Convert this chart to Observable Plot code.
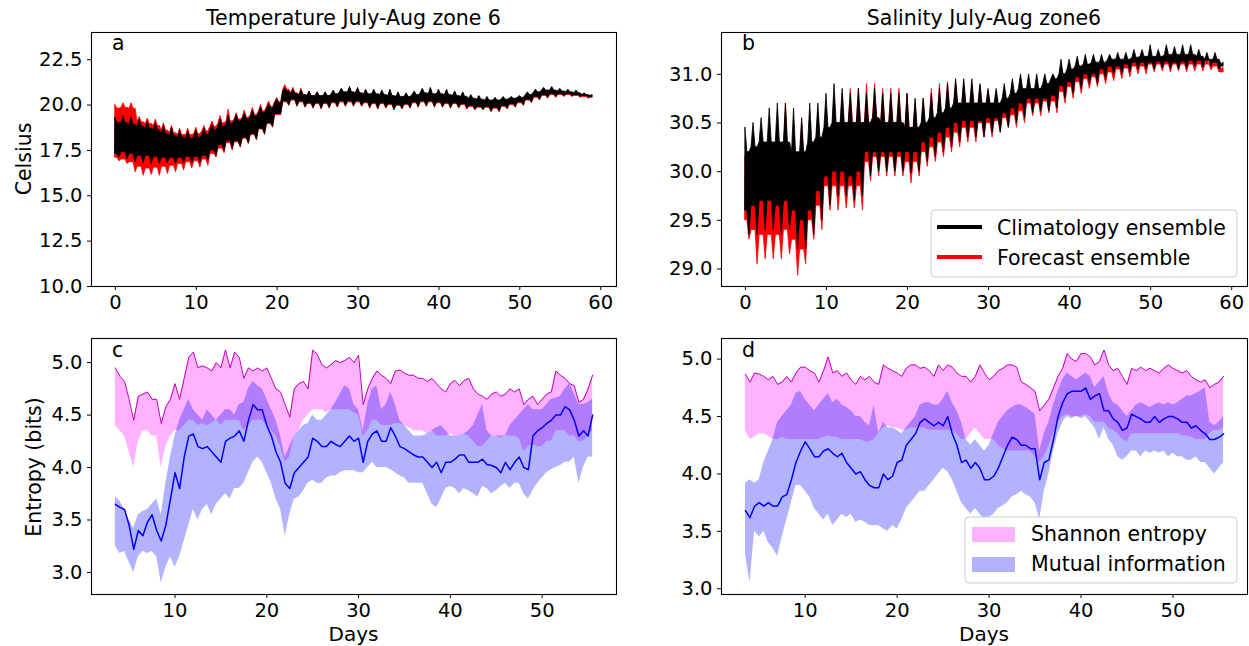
<!DOCTYPE html>
<html><head><meta charset="utf-8">
<script src="https://cdn.jsdelivr.net/npm/d3@7"></script>
<script src="https://cdn.jsdelivr.net/npm/@observablehq/plot@0.6"></script>
<style>
html,body{margin:0;padding:0;background:#fff;}
#chart{position:relative;width:1249px;height:646px;overflow:hidden;font-family:"DejaVu Sans";background:#fff;}
.panel{position:absolute;}
#overlay{position:absolute;left:0;top:0;pointer-events:none;}
</style></head><body>
<div id="chart">
<div class="panel" id="pa" style="left:0px;top:0px"></div>
<div class="panel" id="pb" style="left:630px;top:0px"></div>
<div class="panel" id="pc" style="left:0px;top:320px"></div>
<div class="panel" id="pd" style="left:630px;top:320px"></div>
<svg id="overlay" width="1249" height="646" font-family="DejaVu Sans" fill="black">
  <text x="353.5" y="25" font-size="20.5" text-anchor="middle">Temperature July-Aug zone 6</text>
  <text x="984" y="25" font-size="20.5" text-anchor="middle">Salinity July-Aug zone6</text>
  <text transform="translate(30.5,159) rotate(-90)" font-size="20.5" text-anchor="middle">Celsius</text>
  <text transform="translate(41,467) rotate(-90)" font-size="20.5" text-anchor="middle">Entropy (bits)</text>
  <text x="353.5" y="641" font-size="20" text-anchor="middle">Days</text>
  <text x="984" y="641" font-size="20" text-anchor="middle">Days</text>
  <text x="112" y="50" font-size="20.5">a</text>
  <text x="742" y="50" font-size="20.5">b</text>
  <text x="112" y="357" font-size="20.5">c</text>
  <text x="742" y="357" font-size="20.5">d</text>
  <rect x="931" y="210" width="306" height="67" rx="4" fill="white" fill-opacity="0.8" stroke="#cccccc"/>
  <line x1="937" x2="982" y1="227" y2="227" stroke="black" stroke-width="4"/>
  <line x1="937" x2="982" y1="257" y2="257" stroke="red" stroke-width="4"/>
  <text x="997" y="234.5" font-size="20.5">Climatology ensemble</text>
  <text x="997" y="264.5" font-size="20.5">Forecast ensemble</text>
  <rect x="965" y="517" width="272" height="66" rx="4" fill="white" fill-opacity="0.8" stroke="#cccccc"/>
  <rect x="972" y="527" width="43" height="15" fill="#ff00ff" fill-opacity="0.3"/>
  <rect x="972" y="557" width="43" height="15" fill="#0000ff" fill-opacity="0.3"/>
  <text x="1031" y="541" font-size="20.5">Shannon entropy</text>
  <text x="1031" y="571" font-size="20.5">Mutual information</text>
</svg>
</div>
<script>
// ---- sampling grids ----
const firstDayAB = 0, lastDayAB = 59;           // daily values, days 0..59
const stepCD = 0.5, firstDayCD = 3.5, lastDayCD = 55.5;

// ---- Panel a: temperature (Celsius), ensemble envelopes ----
// TopTip: daily high spikes; TopBase: solid upper edge; BotBase: solid lower edge;
// BotTip: low spikes half a day later (days 0.5..58.5)
const tempClimTopTip = [
19.3,19.4,19.35,19.2,19.1,19.0,18.85,18.75,18.6,18.55,
18.6,18.7,18.9,19.2,19.4,19.45,19.55,19.7,19.85,20.05,
20.3,20.9,20.85,20.8,20.75,20.7,20.7,20.8,20.9,21.0,
20.95,20.85,20.85,20.8,20.85,20.7,20.65,20.75,20.9,20.95,
20.85,20.85,20.75,20.7,20.55,20.5,20.45,20.4,20.45,20.45,
20.5,20.7,20.85,20.95,21.0,20.9,20.85,20.8,20.65,20.55];
const tempClimTopBase = [
19.0,19.0,18.9,18.8,18.7,18.6,18.4,18.3,18.2,18.15,
18.2,18.35,18.6,18.8,18.95,19.1,19.2,19.35,19.55,19.8,
20.1,20.75,20.6,20.55,20.5,20.5,20.5,20.6,20.7,20.7,
20.65,20.6,20.6,20.55,20.5,20.45,20.45,20.55,20.65,20.6,
20.6,20.55,20.5,20.45,20.35,20.3,20.25,20.25,20.3,20.35,
20.4,20.55,20.7,20.8,20.8,20.75,20.7,20.65,20.55,20.5];
const tempClimBotBase = [
17.3,17.4,17.3,17.2,17.2,17.15,17.1,17.1,17.1,17.15,
17.15,17.2,17.5,17.8,18.0,18.0,18.2,18.4,18.7,19.0,
19.5,20.2,20.3,20.2,20.1,20.1,20.1,20.15,20.2,20.2,
20.2,20.15,20.1,20.1,20.05,20.0,20.05,20.15,20.2,20.2,
20.15,20.1,20.1,20.05,19.95,19.9,19.9,19.85,19.95,20.05,
20.15,20.3,20.45,20.55,20.6,20.6,20.6,20.55,20.5,20.45];
const tempClimBotTip = [
17.1,17.0,16.85,16.8,16.75,16.75,16.8,16.75,16.8,16.8,
16.8,16.95,17.2,17.45,17.6,17.7,17.9,18.1,18.4,18.8,
19.5,20.0,19.95,19.9,19.85,19.8,19.85,19.9,19.95,19.95,
19.95,19.85,19.8,19.85,19.75,19.8,19.85,19.9,19.95,19.9,
19.9,19.85,19.85,19.8,19.75,19.75,19.65,19.65,19.8,19.9,
20.0,20.15,20.3,20.4,20.45,20.5,20.5,20.45,20.4];
const tempFcTopTip = [
20.0,20.1,20.1,19.35,19.25,19.2,19.0,18.85,18.7,18.7,
18.75,18.85,19.1,19.4,19.75,19.55,19.7,19.85,20.0,20.2,
20.4,21.1,20.95,20.9,20.75,20.7,20.7,20.75,20.85,20.95,
20.9,20.8,20.8,20.75,20.8,20.65,20.6,20.7,20.85,20.9,
20.8,20.8,20.7,20.65,20.5,20.45,20.4,20.35,20.4,20.4,
20.45,20.65,20.8,20.9,20.95,20.85,20.8,20.75,20.6,20.5];
const tempFcTopBase = [
19.8,19.85,19.8,19.05,18.95,18.85,18.6,18.45,18.35,18.35,
18.4,18.55,18.8,19.0,19.1,19.2,19.3,19.45,19.65,19.9,
20.15,20.85,20.65,20.55,20.5,20.45,20.45,20.55,20.65,20.65,
20.6,20.55,20.55,20.5,20.45,20.4,20.4,20.5,20.6,20.55,
20.55,20.5,20.45,20.4,20.3,20.25,20.2,20.2,20.25,20.3,
20.35,20.5,20.65,20.75,20.75,20.7,20.65,20.6,20.5,20.45];
const tempFcBotBase = [
17.1,17.0,16.85,16.6,16.5,16.55,16.6,16.65,16.75,16.85,
16.9,17.0,17.3,17.6,17.9,17.95,18.15,18.35,18.65,18.95,
19.45,20.15,20.25,20.15,20.05,20.05,20.05,20.1,20.15,20.15,
20.15,20.1,20.05,20.05,20.0,19.95,20.0,20.1,20.15,20.15,
20.1,20.05,20.05,20.0,19.9,19.85,19.85,19.8,19.9,20.0,
20.1,20.25,20.4,20.5,20.55,20.55,20.55,20.5,20.45,20.4];
const tempFcBotTip = [
16.9,16.75,16.3,16.1,16.15,16.1,16.2,16.3,16.4,16.5,
16.55,16.65,17.1,17.35,17.5,17.65,17.85,18.05,18.35,18.75,
19.45,19.95,19.9,19.85,19.8,19.75,19.8,19.85,19.9,19.9,
19.9,19.8,19.75,19.8,19.7,19.75,19.8,19.85,19.9,19.85,
19.85,19.8,19.8,19.75,19.7,19.7,19.6,19.6,19.75,19.85,
19.95,20.1,20.25,20.35,20.4,20.45,20.45,20.4,20.35];

// ---- Panel b: salinity ----
const salClimTopTip = [
30.45,30.5,30.55,30.65,30.7,30.7,30.65,30.55,30.7,30.7,
30.8,30.9,30.85,30.8,30.85,30.8,30.85,30.8,30.8,30.8,
30.8,30.75,30.75,30.8,30.85,30.9,30.95,30.95,30.95,30.9,
30.85,30.85,30.9,30.95,31.0,31.0,31.0,31.0,31.0,31.15,
31.15,31.18,31.2,31.2,31.2,31.2,31.22,31.22,31.25,31.25,
31.3,31.25,31.3,31.28,31.3,31.3,31.25,31.22,31.22,31.12];
const salClimTopBase = [
30.2,30.25,30.3,30.3,30.3,30.3,30.2,30.2,30.3,30.35,
30.45,30.5,30.5,30.5,30.5,30.5,30.55,30.5,30.5,30.5,
30.45,30.45,30.5,30.55,30.6,30.65,30.7,30.7,30.7,30.7,
30.7,30.7,30.75,30.8,30.85,30.85,30.85,30.9,30.95,31.0,
31.05,31.08,31.1,31.12,31.12,31.15,31.15,31.15,31.17,31.18,
31.18,31.18,31.2,31.2,31.2,31.2,31.18,31.15,31.15,31.1];
const salClimBotBase = [
29.6,29.65,29.7,29.7,29.65,29.7,29.6,29.5,29.6,29.8,
29.95,30.0,30.0,29.95,30.0,30.2,30.2,30.2,30.2,30.2,
30.2,30.2,30.3,30.35,30.4,30.45,30.5,30.52,30.52,30.52,
30.55,30.55,30.6,30.65,30.7,30.75,30.75,30.75,30.78,30.88,
30.92,30.97,31.0,31.0,31.05,31.08,31.08,31.1,31.12,31.12,
31.12,31.13,31.13,31.12,31.13,31.14,31.14,31.14,31.12,31.08];
const salClimBotTip = [
29.35,29.35,29.4,29.4,29.35,29.4,29.2,29.2,29.35,29.5,
29.65,29.75,29.75,29.7,29.75,29.95,30.0,30.0,30.0,30.0,
29.98,30.0,30.1,30.15,30.2,30.25,30.3,30.35,30.35,30.35,
30.4,30.4,30.45,30.5,30.55,30.6,30.62,30.62,30.65,30.75,
30.8,30.85,30.9,30.9,30.95,31.0,31.0,31.02,31.05,31.05,
31.05,31.06,31.06,31.05,31.06,31.08,31.07,31.08,31.05];
const salFcTopTip = [
30.15,30.3,30.35,30.4,30.45,30.7,30.45,30.5,30.4,30.6,
30.6,30.75,30.8,30.85,30.85,30.9,30.9,30.85,30.85,30.85,
30.8,30.7,30.75,30.85,30.9,30.92,30.92,30.92,30.9,30.88,
30.82,30.82,30.85,30.9,30.95,30.95,30.95,30.95,30.95,31.1,
31.1,31.12,31.15,31.15,31.15,31.15,31.17,31.17,31.2,31.2,
31.25,31.2,31.25,31.23,31.25,31.25,31.2,31.17,31.17,31.07];
const salFcTopBase = [
29.9,30.0,30.0,30.05,30.1,30.1,30.0,30.1,30.1,30.25,
30.3,30.4,30.45,30.5,30.5,30.5,30.55,30.5,30.5,30.5,
30.45,30.4,30.45,30.5,30.55,30.6,30.65,30.65,30.65,30.65,
30.65,30.65,30.7,30.75,30.8,30.8,30.8,30.85,30.9,30.95,
31.0,31.02,31.05,31.07,31.07,31.1,31.1,31.1,31.12,31.13,
31.13,31.13,31.15,31.15,31.15,31.15,31.13,31.1,31.1,31.05];
const salFcBotBase = [
29.5,29.4,29.35,29.35,29.35,29.4,29.3,29.2,29.5,29.65,
29.85,29.85,29.85,29.85,29.85,30.1,30.15,30.15,30.15,30.15,
30.1,30.1,30.2,30.25,30.3,30.35,30.4,30.45,30.45,30.5,
30.5,30.52,30.55,30.58,30.62,30.7,30.7,30.72,30.72,30.82,
30.87,30.92,30.95,30.97,31.0,31.02,31.05,31.06,31.08,31.08,
31.1,31.1,31.1,31.1,31.1,31.1,31.1,31.1,31.08,31.02];
const salFcBotTip = [
29.3,29.05,29.1,29.1,29.1,29.15,28.93,29.05,29.3,29.4,
29.6,29.6,29.62,29.62,29.6,29.9,29.95,29.95,29.95,29.95,
29.88,29.95,30.05,30.1,30.15,30.2,30.25,30.3,30.3,30.35,
30.35,30.4,30.45,30.45,30.5,30.57,30.57,30.6,30.6,30.7,
30.75,30.8,30.85,30.87,30.9,30.93,30.95,30.97,31.0,31.0,
31.02,31.03,31.02,31.03,31.02,31.03,31.03,31.04,31.02];

// ---- Panel c: temperature entropy (bits), days 3.5..55.5 every 0.5 ----
const shanTopC = [
4.95,4.87,4.82,4.65,4.45,4.68,4.7,4.72,4.65,4.65,
4.42,4.58,4.65,4.8,4.65,4.85,5.05,5.1,4.95,4.97,
4.95,4.92,5.0,4.95,5.12,4.95,5.1,5.05,4.85,4.95,
4.92,4.95,4.92,4.95,4.85,4.75,4.72,4.6,4.48,4.75,
4.8,4.82,4.75,5.12,5.08,4.98,4.95,4.98,5.02,5.0,
5.02,5.05,5.0,5.07,4.6,4.75,4.85,4.92,4.88,4.85,
4.8,4.92,4.93,4.9,4.88,4.88,4.85,4.85,4.82,4.85,
4.8,4.75,4.72,4.8,4.83,4.78,4.83,4.85,4.75,4.7,
4.68,4.65,4.7,4.72,4.68,4.7,4.75,4.72,4.75,4.6,
4.65,4.68,4.6,4.65,4.7,4.72,4.92,4.88,4.85,4.8,
4.78,4.62,4.65,4.75,4.88];
const shanLoC = [
4.4,4.35,4.3,4.15,4.0,4.25,4.35,4.35,4.3,4.3,
4.0,4.2,4.3,4.35,4.35,4.4,4.45,4.45,4.4,4.42,
4.4,4.42,4.45,4.4,4.45,4.45,4.45,4.45,4.35,4.4,
4.45,4.45,4.45,4.4,4.35,4.3,4.2,4.05,4.1,4.3,
4.35,4.45,4.5,4.55,4.55,4.55,4.52,4.55,4.55,4.55,
4.55,4.55,4.52,4.5,4.3,4.35,4.45,4.45,4.4,4.4,
4.4,4.42,4.42,4.4,4.38,4.35,4.35,4.35,4.32,4.35,
4.3,4.3,4.3,4.32,4.3,4.3,4.32,4.3,4.25,4.2,
4.2,4.25,4.3,4.3,4.28,4.3,4.3,4.3,4.28,4.15,
4.2,4.22,4.2,4.2,4.25,4.25,4.35,4.35,4.35,4.3,
4.3,4.25,4.25,4.3,4.35];
const miHiC = [
3.72,3.68,3.6,3.5,3.42,3.55,3.58,3.6,3.65,3.7,
3.55,3.85,4.1,4.3,4.45,4.55,4.65,4.55,4.5,4.45,
4.55,4.5,4.45,4.5,4.55,4.55,4.5,4.6,4.62,4.75,
4.82,4.78,4.75,4.65,4.55,4.45,4.3,4.1,4.2,4.3,
4.35,4.4,4.42,4.5,4.45,4.45,4.5,4.55,4.62,4.7,
4.78,4.75,4.6,4.55,4.35,4.6,4.75,4.78,4.55,4.6,
4.72,4.6,4.45,4.4,4.35,4.3,4.3,4.3,4.32,4.35,
4.38,4.4,4.35,4.3,4.3,4.3,4.32,4.35,4.4,4.5,
4.6,4.35,4.3,4.3,4.3,4.3,4.4,4.45,4.5,4.55,
4.6,4.55,4.55,4.55,4.6,4.65,4.66,4.68,4.75,4.8,
4.7,4.6,4.6,4.62,4.65];
const miLoC = [
3.25,3.18,3.2,3.1,3.0,3.15,3.2,3.18,3.2,3.15,
2.9,3.05,3.15,3.05,3.15,3.3,3.45,3.6,3.5,3.6,
3.65,3.55,3.65,3.7,3.75,3.7,3.8,3.8,3.85,3.95,
4.05,4.1,4.05,3.95,3.85,3.7,3.6,3.35,3.55,3.7,
3.72,3.78,3.85,3.88,3.85,3.85,3.9,3.92,3.92,3.95,
3.97,3.97,3.97,3.95,3.95,4.0,4.05,4.0,4.0,4.0,
3.98,3.95,3.92,3.9,3.85,3.85,3.85,3.85,3.75,3.65,
3.62,3.7,3.8,3.82,3.8,3.75,3.8,3.78,3.75,3.72,
3.82,3.8,3.75,3.78,3.82,3.85,3.8,3.85,3.85,3.75,
3.7,3.78,3.85,3.9,3.95,3.98,4.0,4.02,4.05,4.05,
4.1,3.85,4.0,4.1,4.1];
const miMeanC = [
3.65,3.62,3.6,3.45,3.22,3.4,3.35,3.48,3.55,3.4,
3.3,3.45,3.7,3.95,3.8,4.1,4.3,4.32,4.2,4.18,
4.2,4.15,4.1,4.05,4.25,4.28,4.3,4.35,4.25,4.45,
4.6,4.55,4.55,4.4,4.3,4.15,4.05,3.85,3.8,3.95,
4.0,4.05,4.1,4.28,4.25,4.2,4.2,4.25,4.22,4.2,
4.25,4.3,4.25,4.28,4.05,4.25,4.32,4.35,4.25,4.25,
4.38,4.3,4.2,4.18,4.15,4.12,4.1,4.1,4.05,4.0,
4.05,3.95,4.05,4.05,4.08,4.12,4.12,4.05,4.05,4.05,
4.08,4.03,4.02,4.0,3.95,4.05,3.98,4.05,4.1,4.0,
3.98,4.3,4.35,4.38,4.42,4.45,4.5,4.5,4.58,4.55,
4.45,4.3,4.35,4.3,4.5];

// ---- Panel d: salinity entropy (bits) ----
const shanTopD = [
4.87,4.8,4.88,4.87,4.85,4.82,4.85,4.78,4.8,4.85,
4.8,4.88,4.93,4.93,4.9,4.88,4.8,4.9,5.02,4.88,
4.9,4.85,4.88,4.82,4.78,4.85,4.82,4.85,4.8,4.78,
4.95,4.92,4.9,4.88,4.85,4.92,4.95,4.95,4.92,4.93,
4.9,4.85,4.95,4.9,4.95,4.93,4.88,4.85,4.85,4.8,
4.85,4.95,4.88,4.82,4.85,4.9,4.92,4.95,4.95,4.93,
4.8,4.78,4.75,4.72,4.55,4.6,4.65,4.75,4.85,4.92,
5.05,5.0,4.98,5.05,5.05,5.02,4.95,4.98,5.08,4.95,
4.9,4.92,4.85,4.78,4.92,4.9,4.93,4.9,4.92,4.9,
4.88,4.92,4.95,4.92,4.9,4.88,4.9,4.85,4.82,4.8,
4.82,4.75,4.78,4.8,4.85];
const shanLoD = [
4.38,4.3,4.32,4.35,4.35,4.33,4.3,4.3,4.32,4.3,
4.3,4.3,4.3,4.3,4.3,4.3,4.3,4.32,4.33,4.32,
4.32,4.3,4.3,4.3,4.3,4.3,4.28,4.28,4.3,4.35,
4.4,4.42,4.4,4.4,4.38,4.38,4.4,4.4,4.4,4.4,
4.38,4.38,4.38,4.38,4.38,4.38,4.35,4.3,4.3,4.35,
4.4,4.35,4.3,4.3,4.3,4.25,4.22,4.2,4.2,4.2,
4.2,4.2,4.2,4.15,4.1,4.15,4.25,4.35,4.45,4.5,
4.52,4.5,4.5,4.5,4.52,4.5,4.45,4.45,4.45,4.4,
4.38,4.35,4.3,4.28,4.35,4.35,4.35,4.35,4.35,4.35,
4.35,4.35,4.35,4.35,4.35,4.33,4.33,4.32,4.3,4.3,
4.3,4.35,4.38,4.38,4.4];
const miHiD = [
3.92,3.95,3.92,3.95,4.1,4.2,4.3,4.45,4.5,4.55,
4.6,4.7,4.72,4.65,4.6,4.55,4.6,4.65,4.7,4.62,
4.65,4.6,4.58,4.55,4.5,4.5,4.45,4.42,4.6,4.35,
4.45,4.4,4.4,4.38,4.35,4.4,4.45,4.5,4.6,4.62,
4.62,4.6,4.6,4.65,4.72,4.62,4.55,4.45,4.3,4.25,
4.3,4.25,4.2,4.25,4.35,4.45,4.5,4.55,4.58,4.6,
4.6,4.58,4.55,4.52,4.2,4.35,4.45,4.6,4.72,4.82,
4.88,4.85,4.82,4.85,4.88,4.85,4.75,4.8,4.85,4.7,
4.62,4.6,4.55,4.5,4.55,4.6,4.62,4.6,4.58,4.6,
4.62,4.6,4.62,4.6,4.62,4.65,4.68,4.68,4.7,4.72,
4.75,4.45,4.42,4.45,4.5];
const miLoD = [
3.3,3.05,3.5,3.45,3.5,3.4,3.35,3.28,3.45,3.6,
3.75,3.9,3.9,3.85,3.8,3.7,3.65,3.6,3.65,3.55,
3.6,3.65,3.62,3.65,3.58,3.6,3.58,3.55,3.55,3.55,
3.52,3.5,3.55,3.52,3.6,3.7,3.75,3.8,3.85,3.85,
3.9,3.95,4.0,4.05,4.02,3.95,3.85,3.75,3.7,3.65,
3.7,3.65,3.6,3.62,3.65,3.7,3.72,3.75,3.8,3.82,
3.85,3.82,3.8,3.75,3.6,3.85,4.0,4.2,4.35,4.45,
4.5,4.48,4.5,4.48,4.5,4.45,4.4,4.3,4.4,4.3,
4.25,4.15,4.12,4.15,4.2,4.2,4.15,4.2,4.18,4.2,
4.18,4.2,4.15,4.18,4.15,4.15,4.12,4.12,4.15,4.1,
4.1,4.05,4.0,4.05,4.1];
const miMeanD = [
3.68,3.62,3.72,3.75,3.72,3.75,3.72,3.72,3.8,3.82,
3.95,4.1,4.2,4.28,4.22,4.15,4.15,4.2,4.22,4.18,
4.15,4.18,4.1,4.05,4.0,4.02,3.95,3.9,3.88,3.88,
4.0,3.95,3.98,4.1,4.12,4.25,4.3,4.35,4.45,4.48,
4.45,4.42,4.45,4.42,4.5,4.35,4.25,4.1,4.12,4.05,
4.1,4.05,3.95,3.95,3.98,4.05,4.15,4.25,4.32,4.3,
4.25,4.25,4.22,4.22,3.95,4.1,4.12,4.3,4.5,4.62,
4.7,4.72,4.72,4.72,4.75,4.65,4.68,4.7,4.55,4.55,
4.48,4.45,4.38,4.4,4.52,4.5,4.48,4.45,4.45,4.5,
4.45,4.48,4.5,4.5,4.48,4.45,4.45,4.4,4.42,4.38,
4.35,4.3,4.3,4.32,4.35];

// ---- axis ticks ----
const ticksXAB = [0, 10, 20, 30, 40, 50, 60];
const ticksXCD = [10, 20, 30, 40, 50];
const ticksTemp = [10.0, 12.5, 15.0, 17.5, 20.0, 22.5];
const ticksSal = [29.0, 29.5, 30.0, 30.5, 31.0];
const ticksEnt = [3.0, 3.5, 4.0, 4.5, 5.0];

// ---- build tables ----
const daysDaily = d3.range(firstDayAB, lastDayAB + 1);
const daysCD = d3.range(firstDayCD, lastDayCD + stepCD / 2, stepCD);
function check(name, arr, n) { if (arr.length !== n) throw new Error(`length mismatch ${name}: ${arr.length} vs ${n}`); }
// Outline of an ensemble band: an upper spike at each day, a lower spike half a day later,
// and the solid edges in between (spike width half a day).
function ensemble(name, topTip, topBase, botBase, botTip) {
  check(name + " topTip", topTip, daysDaily.length);
  check(name + " topBase", topBase, daysDaily.length);
  check(name + " botBase", botBase, daysDaily.length);
  check(name + " botTip", botTip, daysDaily.length - 1);
  const rows = [];
  daysDaily.forEach((day, i) => {
    rows.push({day, hi: topTip[i], lo: botBase[i]});
    if (i < botTip.length) {
      rows.push({day: day + 0.25, hi: topBase[i], lo: botBase[i]});
      rows.push({day: day + 0.5, hi: topBase[i], lo: botTip[i]});
      rows.push({day: day + 0.75, hi: topBase[i + 1], lo: botBase[i + 1]});
    }
  });
  return rows;
}
function table(days, cols) {
  for (const [k, v] of Object.entries(cols)) check(k, v, days.length);
  return days.map((day, i) => {
    const r = {day};
    for (const [k, v] of Object.entries(cols)) r[k] = v[i];
    return r;
  });
}
const tClim = ensemble("tClim", tempClimTopTip, tempClimTopBase, tempClimBotBase, tempClimBotTip);
const tFc = ensemble("tFc", tempFcTopTip, tempFcTopBase, tempFcBotBase, tempFcBotTip);
const sClim = ensemble("sClim", salClimTopTip, salClimTopBase, salClimBotBase, salClimBotTip);
const sFc = ensemble("sFc", salFcTopTip, salFcTopBase, salFcBotBase, salFcBotTip);
const rowsC = table(daysCD, {sTop: shanTopC, sLo: shanLoC, mHi: miHiC, mLo: miLoC, mMean: miMeanC});
const rowsD = table(daysCD, {sTop: shanTopD, sLo: shanLoD, mHi: miHiD, mLo: miLoD, mMean: miMeanD});

const ensembleMark = (rows, color) =>
  Plot.areaY(rows, {x: "day", y1: "lo", y2: "hi", fill: color, stroke: color, strokeWidth: 0.8, clip: true});

const fmt1 = d3.format(".1f");
function panel(id, o, marks) {
  const svg = Plot.plot({
    width: o.width, height: o.height,
    marginLeft: o.ml, marginRight: o.mr, marginTop: o.mt, marginBottom: o.mb,
    style: {fontFamily: "DejaVu Sans", fontSize: "19.5px", color: "black", background: "transparent", overflow: "visible"},
    x: {domain: o.xdom, ticks: o.xticks, tickSize: 4, tickPadding: 5, label: null, tickFormat: d => String(d)},
    y: {domain: o.ydom, ticks: o.yticks, tickSize: 4, tickPadding: 5, label: null, tickFormat: fmt1},
    marks: [...marks, Plot.frame({stroke: "black", strokeWidth: 1.1})]
  });
  document.getElementById(id).appendChild(svg);
}

const rowTop = {width: 619, height: 320, mt: 32, mb: 34};
const rowBot = {width: 619, height: 326, mt: 18, mb: 52};

panel("pa", {...rowTop, ml: 91, mr: 3, xdom: [-2.95, 61.95], xticks: ticksXAB, ydom: [10, 24], yticks: ticksTemp},
  [ensembleMark(tFc, "red"), ensembleMark(tClim, "black")]);
panel("pb", {...rowTop, ml: 91, mr: 2, xdom: [-2.95, 61.95], xticks: ticksXAB, ydom: [28.82, 31.43], yticks: ticksSal},
  [ensembleMark(sFc, "red"), ensembleMark(sClim, "black")]);
const entMarks = rows => [
  Plot.areaY(rows, {x: "day", y1: "sLo", y2: "sTop", fill: "#ff00ff", fillOpacity: 0.3}),
  Plot.areaY(rows, {x: "day", y1: "mLo", y2: "mHi", fill: "#0000ff", fillOpacity: 0.3}),
  Plot.lineY(rows, {x: "day", y: "sTop", stroke: "#bf00bf", strokeWidth: 1}),
  Plot.lineY(rows, {x: "day", y: "mMean", stroke: "#0000ff", strokeWidth: 1.5})
];
panel("pc", {...rowBot, ml: 91, mr: 3, xdom: [0.9, 58.1], xticks: ticksXCD, ydom: [2.79, 5.23], yticks: ticksEnt}, entMarks(rowsC));
panel("pd", {...rowBot, ml: 91, mr: 2, xdom: [0.9, 58.1], xticks: ticksXCD, ydom: [2.95, 5.18], yticks: ticksEnt}, entMarks(rowsD));
</script>
</body></html>
